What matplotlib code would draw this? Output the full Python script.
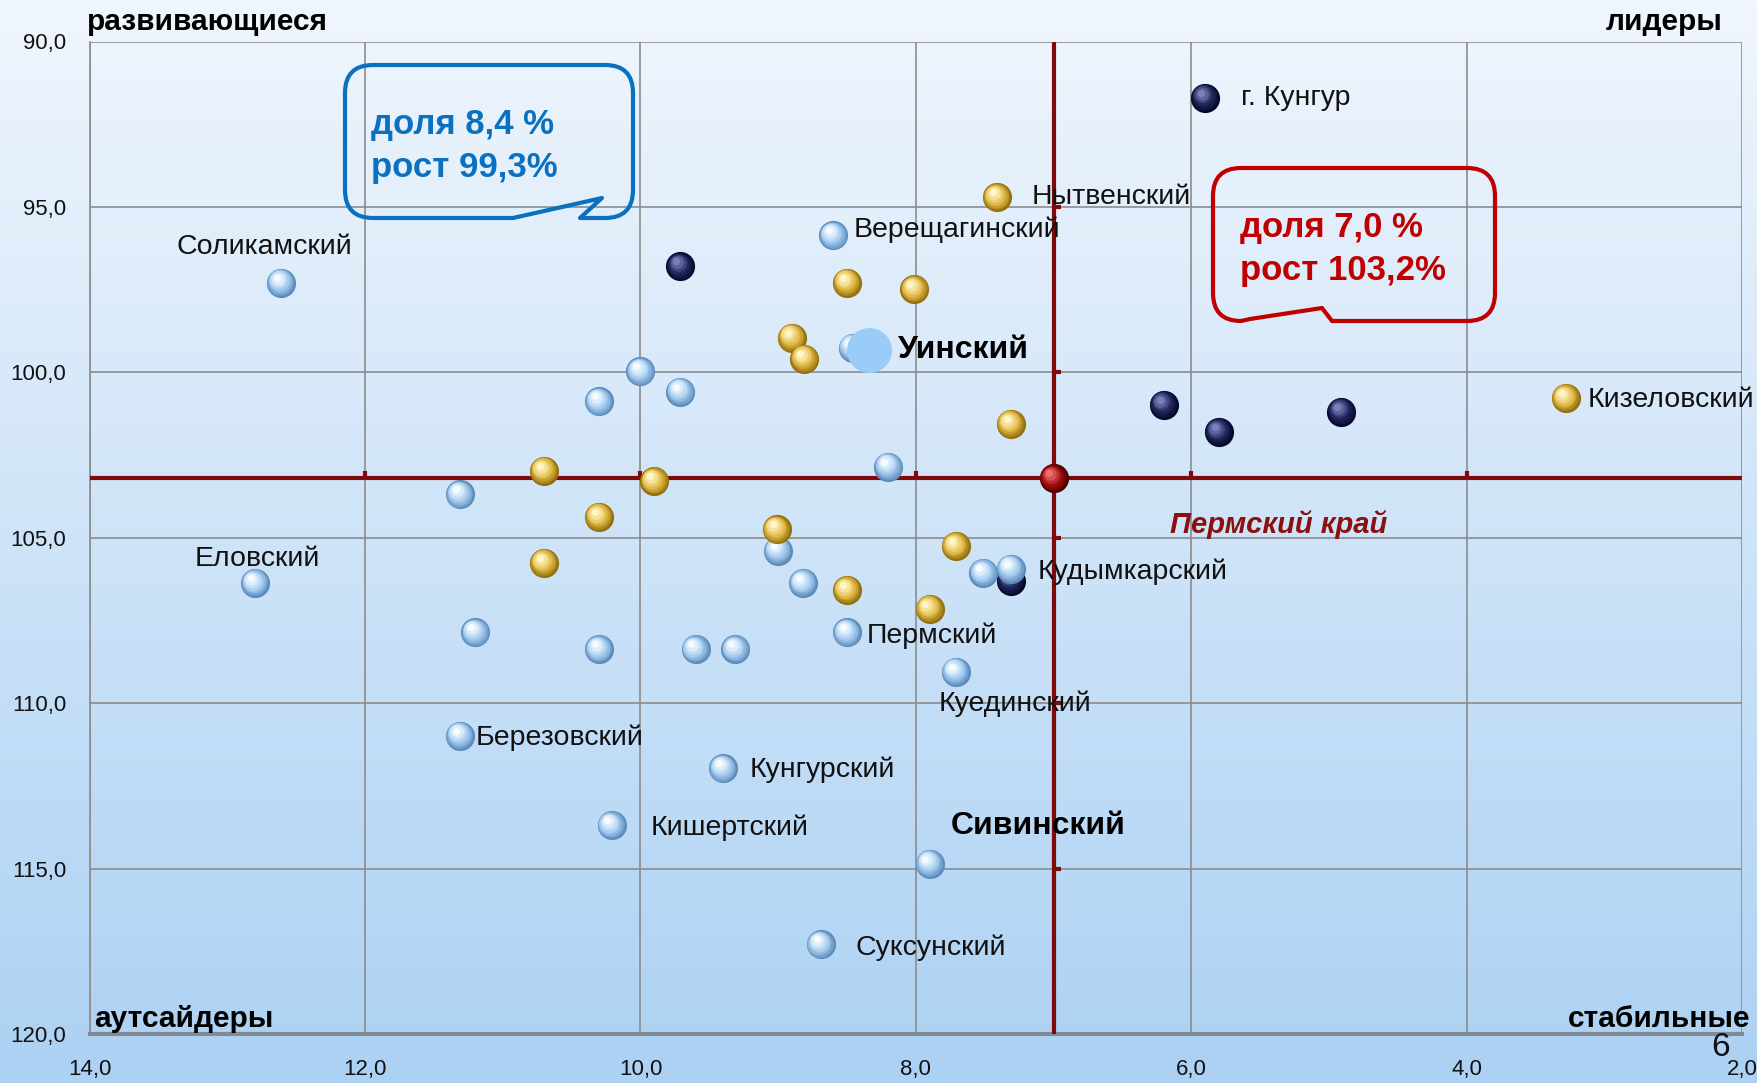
import numpy as np
import matplotlib
matplotlib.use("Agg")
import matplotlib.pyplot as plt
from matplotlib.transforms import offset_copy
from matplotlib.path import Path
from matplotlib.patches import PathPatch
import matplotlib.markers as mmarkers

plt.rcParams['font.family'] = ['Liberation Sans', 'DejaVu Sans']

# ---------------- data ----------------
x_ticks = [14.0, 12.0, 10.0, 8.0, 6.0, 4.0, 2.0]
y_ticks = [90.0, 95.0, 100.0, 105.0, 110.0, 115.0, 120.0]
x_tick_labels = ['14,0', '12,0', '10,0', '8,0', '6,0', '4,0', '2,0']
y_tick_labels = ['90,0', '95,0', '100,0', '105,0', '110,0', '115,0', '120,0']

navy_x = [5.90, 9.71, 6.20, 5.80, 4.91, 7.31]
navy_y = [91.7, 96.8, 100.98, 101.8, 101.19, 106.3]
navy_names = ['г. Кунгур', '', '', '', '', '']

gold_x = [7.41, 8.50, 8.01, 8.90, 8.81, 7.31, 3.28, 10.70, 9.90, 10.30, 9.01, 10.70, 7.71, 8.50, 7.90]
gold_y = [94.71, 97.29, 97.49, 98.95, 99.59, 101.56, 100.78, 102.98, 103.29, 104.37, 104.75, 105.76, 105.25, 106.58, 107.15]
gold_names = ['Нытвенский', '', '', '', '', '', 'Кизеловский', '', '', '', '', '', '', '', '']

blue_x = [12.61, 8.60, 10.00, 9.71, 10.30, 8.46, 8.20, 11.31, 12.80, 9.00, 8.82, 7.51, 7.31, 8.50,
          11.20, 10.30, 9.60, 9.31, 7.71, 11.31, 9.40, 10.21, 7.90, 8.69]
blue_y = [97.29, 95.86, 99.97, 100.58, 100.88, 99.25, 102.85, 103.69, 106.37, 105.39, 106.37, 106.07, 105.93, 107.86,
          107.86, 108.37, 108.37, 108.37, 109.05, 110.98, 111.97, 113.69, 114.85, 117.29]
blue_names = ['Соликамский', 'Верещагинский', '', '', '', '', '', '', 'Еловский', '', '', '', 'Кудымкарский', 'Пермский',
              '', '', '', '', 'Куединский', 'Березовский', 'Кунгурский', 'Кишертский', 'Сивинский', 'Суксунский']

focus_x = [8.34]
focus_y = [99.32]
focus_names = ['Уинский']

region_x = [7.0]
region_y = [103.2]
region_names = ['Пермский край']

quadrant_names = ['развивающиеся', 'лидеры', 'аутсайдеры', 'стабильные']
callout_left = 'доля 8,4 %\nрост 99,3%'
callout_right = 'доля 7,0 %\nрост 103,2%'

# ---------------- figure ----------------
W, H = 1758, 1083
fig = plt.figure(figsize=(W / 100, H / 100), dpi=100)

# background gradient
bg = fig.add_axes([0, 0, 1, 1], zorder=-10)
top = np.array([240, 246, 253]) / 255.0
bot = np.array([172, 209, 243]) / 255.0
t = np.linspace(0, 1, 256)[:, None]
grad = top[None, :] * (1 - t) + bot[None, :] * t
img = np.repeat(grad[:, None, :], 4, axis=1)
bg.imshow(img, aspect='auto', extent=[0, 1, 0, 1], origin='upper')
bg.set_axis_off()

ax = fig.add_axes([89.7 / W, 1 - 1034 / H, (1742 - 89.7) / W, (1034 - 41.5) / H])
ax.set_facecolor('none')
ax.set_xlim(14.0, 2.0)
ax.set_ylim(120.0, 90.0)
ax.set_xticks(x_ticks)
ax.set_xticklabels(x_tick_labels)
ax.set_yticks(y_ticks)
ax.set_yticklabels(y_tick_labels)
ax.tick_params(axis='both', length=0, labelsize=16, labelcolor='#111111')
ax.tick_params(axis='x', pad=18)
ax.tick_params(axis='y', pad=17)
ax.grid(True, color='#8c8c8c', lw=1.2, zorder=1)
for s in ['top', 'right']:
    ax.spines[s].set_visible(False)
ax.spines['left'].set_color('#8c8c8c')
ax.spines['left'].set_linewidth(1.2)
ax.spines['bottom'].set_color('#7f8a96')
ax.spines['bottom'].set_linewidth(3)

# red cross lines through regional average
red = '#7f0a0a'
ax.axvline(region_x[0], color=red, lw=3.0, zorder=3)
ax.axhline(region_y[0], color=red, lw=3.0, zorder=3)
ax.plot([region_x[0]] * 5, y_ticks[1:-1], ls='none', marker=mmarkers.TICKRIGHT,
        ms=5, mew=3, color=red, zorder=3)
ax.plot(x_ticks[1:-1], [region_y[0]] * 5, ls='none', marker=mmarkers.TICKUP,
        ms=5, mew=3, color=red, zorder=3)


def off(dx, dy):
    return offset_copy(ax.transData, fig=fig, x=dx, y=dy, units='points')


def spheres(xs, ys, dark, base, light, s, z):
    ax.scatter(xs, ys, s=s, color=dark, lw=0, zorder=z)
    n = 6
    d0 = np.array(matplotlib.colors.to_rgb(dark))
    b0 = np.array(matplotlib.colors.to_rgb(base))
    l0 = np.array(matplotlib.colors.to_rgb(light))
    for i in range(1, n + 1):
        f = i / n
        if f <= 0.5:
            c = d0 * (1 - 2 * f) + b0 * (2 * f)
        else:
            c = b0 * (2 - 2 * f) + l0 * (2 * f - 1)
        sz = s * (1 - 0.9 * f) ** 1.2
        ax.scatter(xs, ys, s=sz, color=c, lw=0, zorder=z + 0.01 * i,
                   transform=off(-3.0 * f, 3.6 * f))


S = 440
spheres(navy_x, navy_y, '#06082a', '#23285e', '#7880b8', S, 4)
spheres(blue_x, blue_y, '#5d8cbc', '#a6cdf0', '#f6fbff', S, 5)
spheres(gold_x, gold_y, '#94700e', '#e2ba48', '#fff6c4', S, 6)
ax.scatter(focus_x, focus_y, s=1050, color='#99cdf7', lw=0, zorder=7)
spheres(region_x, region_y, '#4a0000', '#a80c0c', '#e87070', S, 8)

# ---------------- labels ----------------
label_off = {
    'г. Кунгур': (26, 0, 'left'),
    'Нытвенский': (25, 0, 'left'),
    'Кизеловский': (16, -1.6, 'left'),
    'Соликамский': (-12, 26, 'center'),
    'Верещагинский': (15, 4, 'left'),
    'Еловский': (2, 17, 'center'),
    'Кудымкарский': (19, -2.4, 'left'),
    'Пермский': (14, -2.4, 'left'),
    'Куединский': (-12, -23, 'left'),
    'Березовский': (11, -1.6, 'left'),
    'Кунгурский': (19, -1, 'left'),
    'Кишертский': (28, -1.6, 'left'),
    'Сивинский': (15, 27, 'left'),
    'Суксунский': (25, -2.4, 'left'),
    'Уинский': (21, 0, 'left'),
}
bold_names = {'Сивинский', 'Уинский'}

for xs, ys, names in [(navy_x, navy_y, navy_names), (gold_x, gold_y, gold_names),
                      (blue_x, blue_y, blue_names), (focus_x, focus_y, focus_names)]:
    for xv, yv, nm in zip(xs, ys, names):
        if not nm:
            continue
        dx, dy, ha = label_off[nm]
        if nm in bold_names:
            ax.annotate(nm, (xv, yv), xytext=(dx, dy), textcoords='offset points',
                        ha=ha, va='center', fontsize=23, fontweight='bold', color='black', zorder=10)
        else:
            ax.annotate(nm, (xv, yv), xytext=(dx, dy), textcoords='offset points',
                        ha=ha, va='center', fontsize=20.5, color='#111111', zorder=10)

ax.annotate(region_names[0], (region_x[0], region_y[0]), xytext=(162, -33), textcoords='offset points',
            ha='center', va='center', fontsize=21, fontweight='bold', fontstyle='italic',
            color='#8b1010', zorder=10)

# quadrant captions
qkw = dict(xycoords='axes fraction', textcoords='offset points', va='center',
           fontsize=21.5, fontweight='bold', color='black', annotation_clip=False)
ax.annotate(quadrant_names[0], (0, 1), xytext=(-2, 14), ha='left', **qkw)
ax.annotate(quadrant_names[1], (1, 1), xytext=(-14, 14), ha='right', **qkw)
ax.annotate(quadrant_names[2], (0, 0), xytext=(3, 11), ha='left', **qkw)
ax.annotate(quadrant_names[3], (1, 0), xytext=(6, 11), ha='right', **qkw)

fig.text(1721 / W, 1 - 1048 / H, '6', fontsize=24, ha='center', va='center', color='#111111')


# ---------------- callouts ----------------
def bubble(x0, y0, x1, y1, r, foot_r, tip, foot_l, color):
    verts = [
        (x0 + r, y0), (x1 - r, y0), (x1, y0), (x1, y0 + r),
        (x1, y1 - r), (x1, y1), (x1 - r, y1),
        foot_r, tip, foot_l,
        (x0 + r, y1), (x0, y1), (x0, y1 - r),
        (x0, y0 + r), (x0, y0), (x0 + r, y0),
    ]
    codes = [Path.MOVETO, Path.LINETO, Path.CURVE3, Path.CURVE3,
             Path.LINETO, Path.CURVE3, Path.CURVE3,
             Path.LINETO, Path.LINETO, Path.LINETO,
             Path.LINETO, Path.CURVE3, Path.CURVE3,
             Path.LINETO, Path.CURVE3, Path.CURVE3]
    v = [(px / W, 1 - py / H) for px, py in verts]
    p = PathPatch(Path(v, codes), transform=fig.transFigure, fill=False,
                  edgecolor=color, lw=3.0, joinstyle='round', zorder=20)
    fig.add_artist(p)


blue_c = '#0a70c0'
red_c = '#c00000'
bubble(345, 65, 633, 218, 28, (580, 218), (602, 198), (513, 218), blue_c)
bubble(1213, 168, 1495, 321, 28, (1332, 321), (1322, 308), (1250, 319), red_c)

fig.text(371 / W, 1 - 146 / H, callout_left, fontsize=25, fontweight='bold', color=blue_c,
         ha='left', va='center', linespacing=1.38)
fig.text(1240 / W, 1 - 249 / H, callout_right, fontsize=25, fontweight='bold', color=red_c,
         ha='left', va='center', linespacing=1.38)

fig.savefig('out.png', dpi=100)
